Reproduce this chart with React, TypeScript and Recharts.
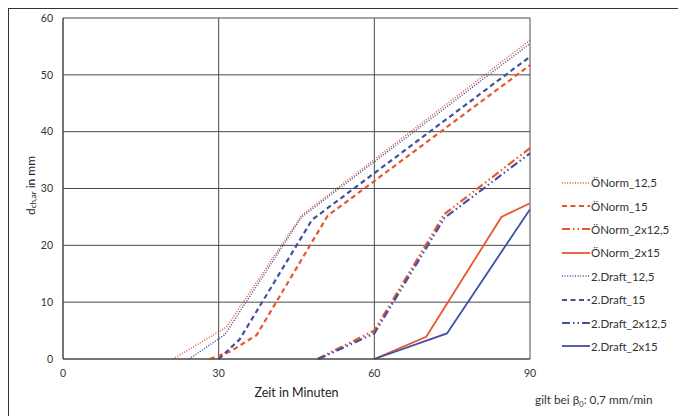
import { LineChart, Line, XAxis, YAxis, CartesianGrid } from 'recharts';

// time in minutes (x) and charring depth in mm (y) per series
const oNorm125T = [21.2, 31.5, 46, 90];
const oNorm125D = [0, 5.6, 25.3, 56.1];
const oNorm15T = [28.3, 32.2, 37.3, 51, 90];
const oNorm15D = [0, 1.3, 4.2, 25.2, 51.7];
const oNorm2x125T = [49, 60, 73.5, 90];
const oNorm2x125D = [0, 5, 25.5, 37.1];
const oNorm2x15T = [60, 70, 84.5, 90];
const oNorm2x15D = [0, 3.9, 25, 27.4];
const draft125T = [24.3, 31.2, 46, 90];
const draft125D = [0, 4.3, 25, 55.5];
const draft15T = [30, 34, 48, 90];
const draft15D = [0, 3.4, 24.5, 53.2];
const draft2x125T = [49.2, 60, 73.5, 90];
const draft2x125D = [0, 4.5, 24.8, 36.2];
const draft2x15T = [60, 74, 89.3, 90];
const draft2x15D = [0, 4.5, 25.4, 26.3];

const xTicks = [0, 30, 60, 90];
const yTicks = [0, 10, 20, 30, 40, 50, 60];

const ORANGE = '#E8572C';
const BLUE = '#4150A0';

const toData = (t: number[], d: number[]) => t.map((v, i) => ({ t: v, d: d[i] }));

const series = [
    { name: 'ÖNorm_12,5', data: toData(oNorm125T, oNorm125D), color: ORANGE, dash: '1 1.6', width: 1.5 },
    { name: 'ÖNorm_15', data: toData(oNorm15T, oNorm15D), color: ORANGE, dash: '5 3.5', width: 2.2 },
    { name: 'ÖNorm_2x12,5', data: toData(oNorm2x125T, oNorm2x125D), color: ORANGE, dash: '8 3 1.5 3 1.5 3', width: 2.2 },
    { name: 'ÖNorm_2x15', data: toData(oNorm2x15T, oNorm2x15D), color: ORANGE, dash: undefined, width: 1.8 },
    { name: '2.Draft_12,5', data: toData(draft125T, draft125D), color: BLUE, dash: '1 1.6', width: 1.5 },
    { name: '2.Draft_15', data: toData(draft15T, draft15D), color: BLUE, dash: '5 3.5', width: 2.2 },
    { name: '2.Draft_2x12,5', data: toData(draft2x125T, draft2x125D), color: BLUE, dash: '8 3 1.5 3 1.5 3', width: 2.2 },
    { name: '2.Draft_2x15', data: toData(draft2x15T, draft2x15D), color: BLUE, dash: undefined, width: 1.8 },
];

const YTitle = ({ viewBox }: any) => {
    const cx = 21;
    const cy = viewBox.y + viewBox.height / 2 - 3;
    return (
        <text x={cx} y={cy} transform={`rotate(-90 ${cx} ${cy})`} textAnchor="middle"
            dominantBaseline="central" fontSize={12} fill="#222">
            d<tspan dy={3} fontSize={8}>ch,ar</tspan><tspan dy={-3}> in mm</tspan>
        </text>
    );
};

const XTitle = ({ viewBox }: any) => (
    <text x={viewBox.x + viewBox.width / 2} y={383} textAnchor="middle" dominantBaseline="central"
        fontSize={12.5} fill="#222">
        Zeit in Minuten
    </text>
);

export default function App() {
    return (
        <div style={{
            position: 'relative', width: 677, height: 407, background: '#fff',
            borderTop: '1px solid #333', borderLeft: '1px solid #333', fontFamily: 'Lato'
        }}>
            <LineChart width={677} height={407} margin={{ top: 9, right: 156, left: 0, bottom: 27 }}>
                <CartesianGrid stroke="#4a4a4a" strokeWidth={1} />
                <XAxis dataKey="t" type="number" domain={[0, 90]} ticks={xTicks} height={30}
                    stroke="#444" tickLine={false} tickMargin={5}
                    tick={{ fontSize: 10.5, fill: '#333' }} label={<XTitle />} />
                <YAxis type="number" domain={[0, 60]} ticks={yTicks} width={54}
                    stroke="#444" tickLine={false} tickMargin={4}
                    tick={{ fontSize: 10.5, fill: '#333' }} label={<YTitle />} />
                {series.map((s) => (
                    <Line key={s.name} data={s.data} dataKey="d" name={s.name} type="linear"
                        stroke={s.color} strokeWidth={s.width} strokeDasharray={s.dash}
                        dot={false} activeDot={false} isAnimationActive={false} />
                ))}
            </LineChart>
            {/* legend */}
            <div style={{ position: 'absolute', left: 553, top: 162 }}>
                {series.map((s) => (
                    <div key={s.name} style={{ display: 'flex', alignItems: 'center', height: 23.4 }}>
                        <svg width={28} height={6}>
                            <line x1={0} y1={3} x2={28} y2={3} stroke={s.color} strokeWidth={s.width}
                                strokeDasharray={s.dash} />
                        </svg>
                        <span style={{ fontSize: 11.5, color: '#333', marginLeft: 1 }}>{s.name}</span>
                    </div>
                ))}
            </div>
            <div style={{ position: 'absolute', left: 526, top: 383, fontSize: 11.8, color: '#333', whiteSpace: 'nowrap' }}>
                gilt bei β<sub style={{ fontSize: 7.5 }}>0</sub>: 0,7 mm/min
            </div>
        </div>
    );
}
